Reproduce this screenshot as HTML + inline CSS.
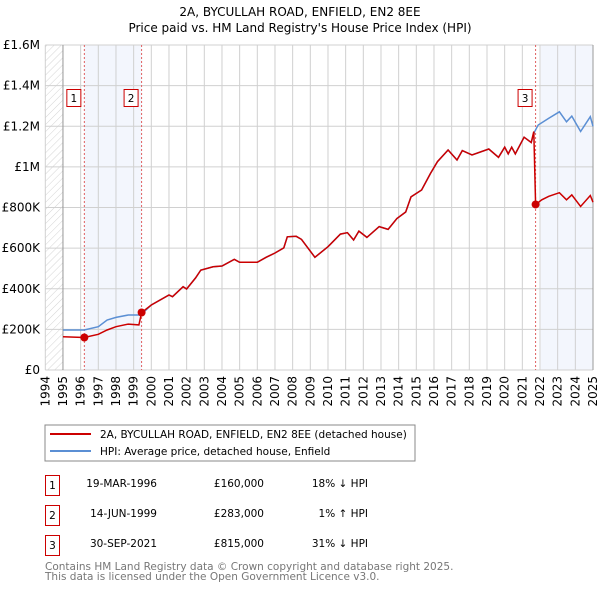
<!DOCTYPE html>
<html><head><meta charset="utf-8"><style>
body{margin:0;background:#fff;}
svg{display:block;font-family:"DejaVu Sans","Liberation Sans",sans-serif;}
</style></head><body>
<svg id="c" width="600" height="590" viewBox="0 0 600 590">
<defs><pattern id="hatch" width="5" height="5" patternUnits="userSpaceOnUse" patternTransform="rotate(45)"><line x1="0" y1="0" x2="0" y2="5" stroke="#d4d4d4" stroke-width="1"/></pattern></defs>
<text x="300" y="16" text-anchor="middle" font-size="12">2A, BYCULLAH ROAD, ENFIELD, EN2 8EE</text>
<text x="300" y="32" text-anchor="middle" font-size="12">Price paid vs. HM Land Registry's House Price Index (HPI)</text>
<g id="plot"></g>
<rect x="45" y="425" width="370" height="36" fill="#fff" stroke="#888"/>
<line x1="50" y1="434" x2="91" y2="434" stroke="#cc0000" stroke-width="2"/>
<text x="100" y="438" font-size="10.5">2A, BYCULLAH ROAD, ENFIELD, EN2 8EE (detached house)</text>
<line x1="50" y1="451" x2="91" y2="451" stroke="#5b8fd4" stroke-width="2"/>
<text x="100" y="455" font-size="10.5">HPI: Average price, detached house, Enfield</text>
<g font-size="10.5">
<rect x="45.5" y="475.5" width="14" height="20" fill="#fff" stroke="#cc0000"/><text x="52.5" y="489" text-anchor="middle">1</text>
<text x="157" y="487" text-anchor="end">19-MAR-1996</text>
<text x="264" y="487" text-anchor="end">£160,000</text>
<text x="368" y="487" text-anchor="end">18% ↓ HPI</text>
<rect x="45.5" y="505.5" width="14" height="20" fill="#fff" stroke="#cc0000"/><text x="52.5" y="519" text-anchor="middle">2</text>
<text x="157" y="517" text-anchor="end">14-JUN-1999</text>
<text x="264" y="517" text-anchor="end">£283,000</text>
<text x="368" y="517" text-anchor="end">1% ↑ HPI</text>
<rect x="45.5" y="535.5" width="14" height="20" fill="#fff" stroke="#cc0000"/><text x="52.5" y="549" text-anchor="middle">3</text>
<text x="157" y="547" text-anchor="end">30-SEP-2021</text>
<text x="264" y="547" text-anchor="end">£815,000</text>
<text x="368" y="547" text-anchor="end">31% ↓ HPI</text>
</g>
<text x="45" y="570" font-size="10.5" fill="#777">Contains HM Land Registry data © Crown copyright and database right 2025.</text>
<text x="45" y="580" font-size="10.5" fill="#777">This data is licensed under the Open Government Licence v3.0.</text>
</svg>
<script>
const yTicks=[0,200000,400000,600000,800000,1000000,1200000,1400000,1600000];
const yTickLabels=["£0","£200K","£400K","£600K","£800K","£1M","£1.2M","£1.4M","£1.6M"];
const years=[1994,1995,1996,1997,1998,1999,2000,2001,2002,2003,2004,2005,2006,2007,2008,2009,2010,2011,2012,2013,2014,2015,2016,2017,2018,2019,2020,2021,2022,2023,2024,2025];
const hpiT=[1995.0,1996.2,1997.0,1997.5,1998.0,1998.7,1999.4,2000.0,2001.0,2001.2,2001.8,2002.0,2002.5,2002.8,2003.5,2004.0,2004.7,2005.0,2006.0,2006.5,2007.0,2007.5,2007.7,2008.2,2008.5,2009.26,2010.0,2010.7,2011.1,2011.45,2011.75,2012.2,2012.9,2013.4,2013.9,2014.4,2014.7,2015.3,2015.8,2016.2,2016.8,2017.3,2017.6,2018.15,2019.1,2019.65,2020.0,2020.2,2020.4,2020.6,2021.1,2021.5,2021.7,2021.9,2022.5,2023.1,2023.5,2023.8,2024.3,2024.85,2025.0];
const hpiV=[197000,197000,213000,246000,259000,271000,271000,320000,369000,361000,410000,399000,453000,492000,508000,512000,545000,530000,530000,555000,576000,601000,656000,658000,643000,555000,607000,669000,676000,640000,684000,653000,706000,692000,746000,778000,852000,886000,968000,1026000,1083000,1034000,1080000,1059000,1088000,1047000,1097000,1064000,1097000,1064000,1146000,1120000,1174000,1206000,1239000,1271000,1222000,1250000,1174000,1247000,1200000];
const redT=[1995.0,1996.2,1997.0,1997.5,1998.0,1998.7,1999.3,1999.45,2000.0,2001.0,2001.2,2001.8,2002.0,2002.5,2002.8,2003.5,2004.0,2004.7,2005.0,2006.0,2006.5,2007.0,2007.5,2007.7,2008.2,2008.5,2009.26,2010.0,2010.7,2011.1,2011.45,2011.75,2012.2,2012.9,2013.4,2013.9,2014.4,2014.7,2015.3,2015.8,2016.2,2016.8,2017.3,2017.6,2018.15,2019.1,2019.65,2020.0,2020.2,2020.4,2020.6,2021.1,2021.5,2021.65,2021.75,2022.1,2022.5,2023.1,2023.5,2023.8,2024.3,2024.85,2025.0];
const redV=[164000,160000,176000,197000,213000,226000,222000,283000,320000,369000,361000,410000,399000,453000,492000,508000,512000,545000,530000,530000,555000,576000,601000,656000,658000,643000,555000,607000,669000,676000,640000,684000,653000,706000,692000,746000,778000,852000,886000,968000,1026000,1083000,1034000,1080000,1059000,1088000,1047000,1097000,1064000,1097000,1064000,1146000,1120000,1174000,815000,838000,855000,873000,838000,862000,805000,859000,826000];
const saleLabels=["1","2","3"];
const saleT=[1996.21,1999.45,2021.75];
const saleV=[160000,283000,815000];
const shadeT=[[1996.21,1999.45],[2022.05,2025]];

const NS="http://www.w3.org/2000/svg";
const L=45.3,R=593,T=45,B=370;
const X=t=>L+(t-1994)/(2025-1994)*(R-L);
const Y=v=>B-v/1600000*(B-T);
const g=document.getElementById('plot');
function mk(tag,at,parent){const e=document.createElementNS(NS,tag);for(const k in at)e.setAttribute(k,at[k]);(parent||g).appendChild(e);return e;}
let e;
e=mk('rect',{x:L,y:T,width:X(1995)-L,height:B-T,fill:'url(#hatch)'});


shadeT.forEach((s,i)=>{e=mk('rect',{x:X(s[0]),y:T,width:X(s[1])-X(s[0]),height:B-T,fill:'#f3f6fd'});

});
years.forEach(yr=>{e=mk('line',{x1:X(yr),x2:X(yr),y1:T,y2:B,stroke:'#d0d0d0','stroke-width':1});


e=mk('text',{transform:`translate(${X(yr)+4},${B+6}) rotate(-90)`,'text-anchor':'end','font-size':12});e.textContent=yr;

});
yTicks.forEach((v,i)=>{e=mk('line',{x1:L,x2:R,y1:Y(v),y2:Y(v),stroke:'#d0d0d0','stroke-width':1});


e=mk('text',{x:40,y:Y(v)+4,'text-anchor':'end','font-size':12});e.textContent=yTickLabels[i];

});
e=mk('line',{x1:X(1995),x2:X(1995),y1:T,y2:B,stroke:'#999'});


e=mk('line',{x1:R,x2:R,y1:T,y2:B,stroke:'#999'});


saleT.forEach((t,i)=>{e=mk('line',{x1:X(t),x2:X(t),y1:T,y2:B,stroke:'#e06060','stroke-dasharray':'2,2'});

});
const pts=(ts,vs)=>ts.map((t,i)=>X(t).toFixed(1)+','+Y(vs[i]).toFixed(1)).join(' ');
e=mk('polyline',{points:pts(hpiT,hpiV),fill:'none',stroke:'#5b8fd4','stroke-width':1.5});


e=mk('polyline',{points:pts(redT,redV),fill:'none',stroke:'#cc0000','stroke-width':1.5});


saleT.forEach((t,i)=>{e=mk('circle',{cx:X(t),cy:Y(saleV[i]),r:4,fill:'#cc0000'});


const bx=X(t)-17;
e=mk('rect',{x:bx-0.5,y:89.5,width:14,height:17,fill:'#fff',stroke:'#cc0000'});


e=mk('text',{x:bx+6.5,y:102,'text-anchor':'middle','font-size':10.5});e.textContent=saleLabels[i];

});
</script>
</body></html>
